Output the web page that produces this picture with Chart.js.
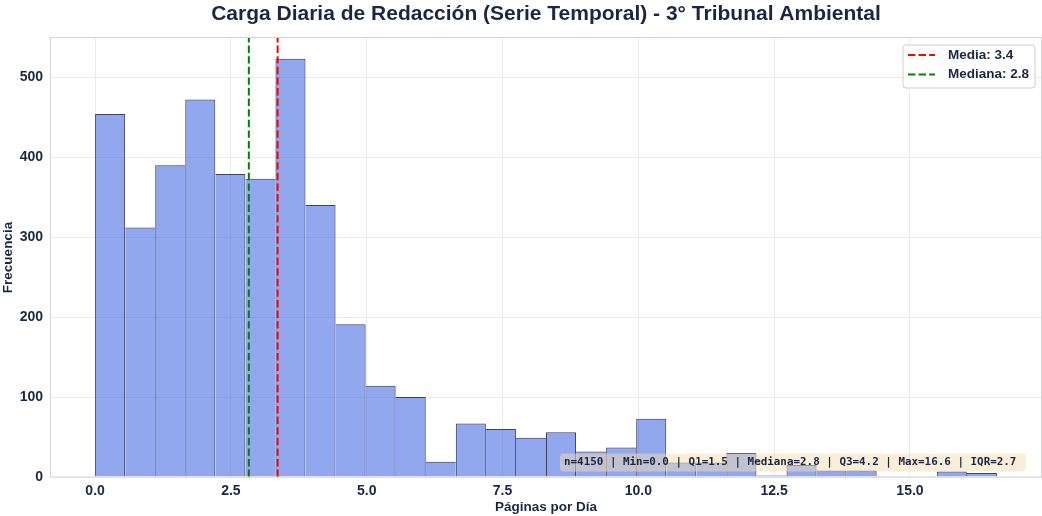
<!DOCTYPE html>
<html><head><meta charset="utf-8">
<script src="https://cdn.jsdelivr.net/npm/chart.js@4.4.0/dist/chart.umd.min.js"></script>
<style>html,body{margin:0;padding:0;background:#fff;}#wrap{width:1042px;height:516px;}</style>
</head><body><div id="wrap"><canvas id="c" width="1042" height="516"></canvas></div>
<script>
// Histogram bin edges (Páginas por Día) and counts (Frecuencia)
const binEdges = [0, 0.553, 1.107, 1.66, 2.213, 2.767, 3.32, 3.873, 4.427, 4.98, 5.533, 6.087, 6.64, 7.193, 7.747, 8.3, 8.853, 9.407, 9.96, 10.513, 11.067, 11.62, 12.173, 12.727, 13.28, 13.833, 14.387, 14.94, 15.493, 16.047, 16.6];
const counts = [454, 312, 390, 472, 379, 373, 523, 340, 191, 114, 100, 19, 67, 60, 49, 56, 32, 37, 73, 18, 18, 30, 2, 15, 8, 8, 1, 0, 7, 5];
const meanValue = 3.36;
const medianValue = 2.83;
const meanLabel = 'Media: 3.4';
const medianLabel = 'Mediana: 2.8';
const xTicks = [0, 2.5, 5, 7.5, 10, 12.5, 15];
const yTicks = [0, 100, 200, 300, 400, 500];
const statsText = 'n=4150 | Min=0.0 | Q1=1.5 | Mediana=2.8 | Q3=4.2 | Max=16.6 | IQR=2.7';
const titleText = 'Carga Diaria de Redacción (Serie Temporal) - 3° Tribunal Ambiental';
const xRange = [-0.83, 17.43];
const yMax = 549;

const navy = '#1a2744';
const barData = counts.map((c, i) => ({x: (binEdges[i] + binEdges[i + 1]) / 2, y: c}));
const last = counts.length - 1;

function rrect(ctx, x, y, w, h, r) {
  ctx.beginPath();
  ctx.moveTo(x + r, y);
  ctx.lineTo(x + w - r, y); ctx.quadraticCurveTo(x + w, y, x + w, y + r);
  ctx.lineTo(x + w, y + h - r); ctx.quadraticCurveTo(x + w, y + h, x + w - r, y + h);
  ctx.lineTo(x + r, y + h); ctx.quadraticCurveTo(x, y + h, x, y + h - r);
  ctx.lineTo(x, y + r); ctx.quadraticCurveTo(x, y, x + r, y);
  ctx.closePath();
}

const decor = {
  id: 'decor',
  afterDraw(chart) {
    const ctx = chart.ctx, a = chart.chartArea;
    ctx.save();
    ctx.strokeStyle = '#d4d4d4'; ctx.lineWidth = 1;
    ctx.strokeRect(Math.round(a.left) + 0.5, Math.round(a.top) - 0.5, Math.round(a.right - a.left) - 1, Math.round(a.bottom - a.top) + 0.5);
    ctx.fillStyle = navy; ctx.font = 'bold 21px "Liberation Sans", Arial, sans-serif';
    ctx.textAlign = 'center'; ctx.textBaseline = 'middle';
    ctx.fillText(titleText, (a.left + a.right) / 2, 14);
    const lx = 903, ly = 45, lw = 132, lh = 43;
    rrect(ctx, lx, ly, lw, lh, 3);
    ctx.fillStyle = 'rgba(255,255,255,0.85)'; ctx.fill();
    ctx.strokeStyle = '#cfcfcf'; ctx.lineWidth = 1; ctx.stroke();
    ctx.lineWidth = 2; ctx.setLineDash([7.4, 3.2]);
    ctx.strokeStyle = '#ff0000';
    ctx.beginPath(); ctx.moveTo(908, 55); ctx.lineTo(935, 55); ctx.stroke();
    ctx.strokeStyle = '#008000';
    ctx.beginPath(); ctx.moveTo(908, 74.5); ctx.lineTo(935, 74.5); ctx.stroke();
    ctx.setLineDash([]);
    ctx.fillStyle = navy; ctx.font = 'bold 13.5px "Liberation Sans", Arial, sans-serif';
    ctx.textAlign = 'left'; ctx.textBaseline = 'middle';
    ctx.fillText(meanLabel, 948, 55);
    ctx.fillText(medianLabel, 948, 74.5);
    rrect(ctx, 560, 453.5, 466, 18, 4);
    ctx.fillStyle = 'rgba(245,222,179,0.5)'; ctx.fill();
    ctx.fillStyle = navy; ctx.font = 'bold 10.9px "DejaVu Sans Mono", monospace';
    ctx.fillText(statsText, 564, 462.5);
    ctx.restore();
  }
};

new Chart(document.getElementById('c'), {
  type: 'bar',
  data: {
    datasets: [
      {type: 'line', label: meanLabel, data: [{x: meanValue, y: 0}, {x: meanValue, y: yMax}], borderColor: '#ff0000', borderWidth: 2, borderDash: [7.4, 3.2], pointRadius: 0, fill: false, order: 1},
      {type: 'line', label: medianLabel, data: [{x: medianValue, y: 0}, {x: medianValue, y: yMax}], borderColor: '#008000', borderWidth: 2, borderDash: [7.4, 3.2], pointRadius: 0, fill: false, order: 1},
      {type: 'bar', label: 'Frecuencia', data: barData, backgroundColor: 'rgba(65,105,225,0.58)', borderColor: 'rgba(20,25,60,0.82)',
       borderWidth: c => {
         const i = c.dataIndex;
         const h = counts[i];
         return {
           top: h > 0 ? 1 : 0, bottom: 0,
           left: (i === 0 || counts[i - 1] < h) ? 1 : 0,
           right: (i === last || counts[i + 1] <= h) ? 1 : 0
         };
       },
       borderSkipped: false, inflateAmount: 0,
       barPercentage: 1, categoryPercentage: 1, order: 2}
    ]
  },
  options: {
    responsive: false, animation: false, devicePixelRatio: 1,
    layout: {padding: {top: 38, left: 0, right: 0, bottom: 0}},
    plugins: {legend: {display: false}, tooltip: {enabled: false}, title: {display: false}},
    scales: {
      x: {
        type: 'linear', min: xRange[0], max: xRange[1], offset: false,
        afterFit(s) { s.height = 39; },
        afterBuildTicks(s) { s.ticks = xTicks.map(v => ({value: v})); },
        ticks: {callback: v => Number(v).toFixed(1), color: navy, font: {family: '"Liberation Sans", Arial', size: 14, weight: 'bold'}, padding: 6, maxRotation: 0, autoSkip: false},
        grid: {color: '#ebebeb', drawTicks: false, offset: false},
        border: {display: false},
        title: {display: true, text: 'Páginas por Día', color: navy, font: {family: '"Liberation Sans", Arial', size: 13.5, weight: 'bold'}, padding: {top: 0, bottom: 1}}
      },
      y: {
        min: 0, max: yMax,
        afterFit(s) { s.width = 50; },
        afterBuildTicks(s) { s.ticks = yTicks.map(v => ({value: v})); },
        ticks: {color: navy, font: {family: '"Liberation Sans", Arial', size: 14, weight: 'bold'}, padding: 7},
        grid: {color: '#ebebeb', drawTicks: false},
        border: {display: false},
        title: {display: true, text: 'Frecuencia', color: navy, font: {family: '"Liberation Sans", Arial', size: 13.5, weight: 'bold'}, padding: {top: 0, bottom: 0}}
      }
    }
  },
  plugins: [decor]
});
</script></body></html>
